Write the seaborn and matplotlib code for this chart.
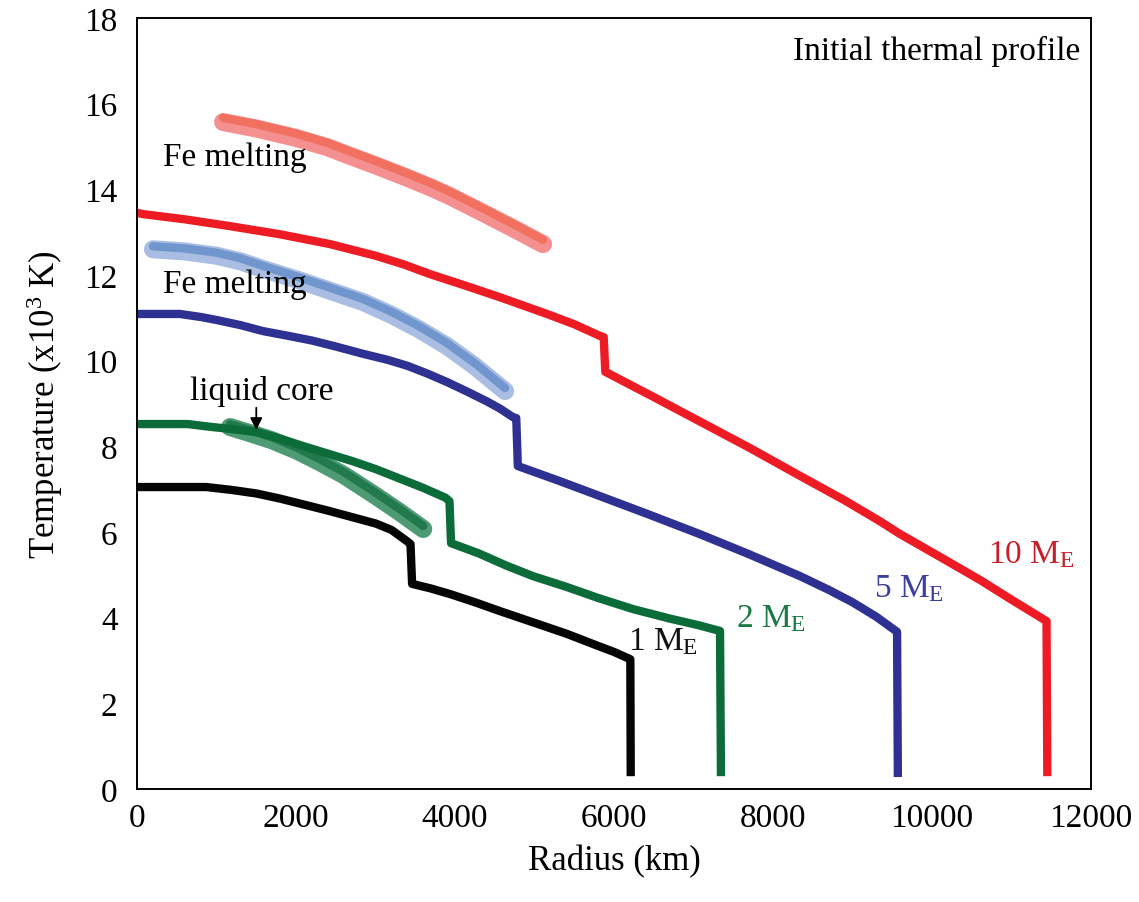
import matplotlib
matplotlib.use("Agg")
import matplotlib.pyplot as plt
import seaborn as sns
import numpy as np

# ---- data (radius in km, temperature in 10^3 K) ----
black_r = [0, 870, 1200, 1500, 1800, 2100, 2400, 2700, 3000, 3200, 3400, 3440, 3460, 3700, 3940,
           4250, 4570, 5000, 5410, 5800, 6000, 6205, 6210]
black_T = [7.05, 7.05, 6.98, 6.9, 6.78, 6.64, 6.5, 6.35, 6.2, 6.05, 5.78, 5.72, 4.79, 4.68, 4.55,
           4.36, 4.15, 3.88, 3.62, 3.34, 3.2, 3.03, 0.3]

green_r = [0, 640, 900, 1200, 1510, 1800, 2100, 2400, 2700, 3000, 3300, 3600, 3880, 3930, 3950,
           4300, 4640, 4980, 5400, 5800, 6240, 6700, 7050, 7333, 7345]
green_T = [8.52, 8.52, 8.46, 8.4, 8.33, 8.18, 8.0, 7.83, 7.66, 7.47, 7.25, 7.03, 6.8, 6.72, 5.74,
           5.5, 5.22, 4.97, 4.72, 4.46, 4.2, 3.98, 3.83, 3.69, 0.3]

blue_r = [0, 540, 800, 1000, 1300, 1585, 1900, 2200, 2500, 2843, 3150, 3400, 3650, 3900, 4150,
          4400, 4566, 4730, 4770, 4790, 5300, 5820, 6450, 7080, 7700, 8340, 8700, 9000, 9300,
          9560, 9570]
blue_T = [11.09, 11.09, 11.02, 10.95, 10.83, 10.69, 10.58, 10.47, 10.33, 10.16, 10.02, 9.88, 9.7,
          9.5, 9.28, 9.05, 8.88, 8.68, 8.66, 7.54, 7.2, 6.84, 6.4, 5.95, 5.48, 4.97, 4.65, 4.36,
          4.02, 3.67, 0.28]

red_r = [0, 80, 600, 1170, 1800, 2430, 3000, 3350, 3685, 4100, 4566, 5157, 5500, 5820, 5870, 5890,
         6500, 7080, 7700, 8340, 8900, 9346, 9600, 10100, 10604, 11000, 11440, 11450]
red_T = [13.45, 13.42, 13.3, 13.14, 12.95, 12.72, 12.45, 12.25, 12.02, 11.77, 11.48, 11.09, 10.85,
         10.58, 10.55, 9.74, 9.15, 8.58, 7.97, 7.31, 6.74, 6.25, 5.95, 5.42, 4.88, 4.42, 3.92, 0.3]

# Fe melting curves
fe10_r = [1083, 1500, 2000, 2400, 2680, 3000, 3400, 3700, 3937, 4300, 4700, 5107]
fe10_T = [15.57, 15.42, 15.2, 14.98, 14.78, 14.56, 14.27, 14.04, 13.84, 13.5, 13.12, 12.72]

fe5_r = [200, 600, 1000, 1300, 1585, 2000, 2400, 2843, 3200, 3550, 3900, 4250, 4630]
fe5_T = [12.6, 12.55, 12.45, 12.32, 12.14, 11.9, 11.65, 11.37, 11.07, 10.73, 10.34, 9.87, 9.29]

fe2_r = [1170, 1400, 1700, 2010, 2300, 2600, 2990, 3300, 3600]
fe2_T = [8.45, 8.32, 8.14, 7.9, 7.63, 7.33, 6.86, 6.47, 6.07]

xticks = [0, 2000, 4000, 6000, 8000, 10000, 12000]
yticks = [0, 2, 4, 6, 8, 10, 12, 14, 16, 18]

sns.set_style("white")
plt.rcParams["font.family"] = ["Liberation Serif", "DejaVu Serif"]
plt.rcParams["mathtext.fontset"] = "custom"
plt.rcParams["mathtext.rm"] = "Liberation Serif"
plt.rcParams["mathtext.it"] = "Liberation Serif:italic"
plt.rcParams["text.color"] = "black"
plt.rcParams["axes.labelcolor"] = "black"

fig = plt.figure(figsize=(11.39, 9.03), dpi=100)
ax = fig.add_axes([0.1203, 0.1251, 0.8376, 0.8539])

def line(x, y, color, lw, alpha=1.0, cap="butt", dy=0.0):
    sns.lineplot(x=np.asarray(x, float), y=np.asarray(y, float) + dy, ax=ax,
                 color=color, linewidth=lw, alpha=alpha, sort=False,
                 estimator=None, solid_capstyle=cap, solid_joinstyle="round")

# Fe melting (thick, two-tone)
line(fe10_r, fe10_T, "#f4908f", 13, cap="round")
line(fe10_r, fe10_T, "#f27060", 6, cap="round", dy=0.1)

line(fe5_r, fe5_T, "#a9bee2", 13, cap="round")
line(fe5_r, fe5_T, "#7096cd", 6, cap="round", dy=0.07)

line(fe2_r, fe2_T, "#4e9a74", 13, cap="round")
line(fe2_r, fe2_T, "#227a4c", 6, cap="round", dy=0.07)

# main profiles
line(black_r, black_T, "#050505", 6)
line(green_r, green_T, "#0b6b39", 6)
line(blue_r, blue_T, "#2e3192", 6)
line(red_r, red_T, "#ed1c24", 6)

ax.set_xlim(0, 12000)
ax.set_ylim(0, 18)
ax.set_xticks(xticks)
ax.set_yticks(yticks)
ax.tick_params(direction="in", length=7, width=1.3, labelsize=24, colors="black")
ax.tick_params(axis="y", pad=14)
ax.tick_params(axis="x", pad=10)
for s in ax.spines.values():
    s.set_visible(True)
    s.set_color("black")
    s.set_linewidth(1.4)

ax.set_xlabel("Radius (km)", fontsize=25, labelpad=8)
ax.set_ylabel(r"Temperature (x10$^{3}$ K)", fontsize=25, labelpad=14)

fs = 24
ax.text(11870, 17.25, "Initial thermal profile", ha="right", va="center", fontsize=fs)
ax.text(330, 14.75, "Fe melting", ha="left", va="center", fontsize=fs)
ax.text(330, 11.8, "Fe melting", ha="left", va="center", fontsize=fs)
ax.text(1570, 9.3, "liquid core", ha="center", va="center", fontsize=fs)
ax.annotate("", xy=(1500, 8.38), xytext=(1500, 8.9),
            arrowprops=dict(arrowstyle="-|>", color="black", lw=1.3, mutation_scale=18,
                            shrinkA=0, shrinkB=0))
ax.text(6170, 3.45, r"1 M$_{\mathrm{E}}$", ha="left", va="center", fontsize=fs, color="#111111")
ax.text(7540, 4.0, r"2 M$_{\mathrm{E}}$", ha="left", va="center", fontsize=fs, color="#1a7a45")
ax.text(9270, 4.7, r"5 M$_{\mathrm{E}}$", ha="left", va="center", fontsize=fs, color="#3b3f9e")
ax.text(10700, 5.5, r"10 M$_{\mathrm{E}}$", ha="left", va="center", fontsize=fs, color="#c8202a")

fig.savefig("out.png", dpi=100, facecolor="white")
